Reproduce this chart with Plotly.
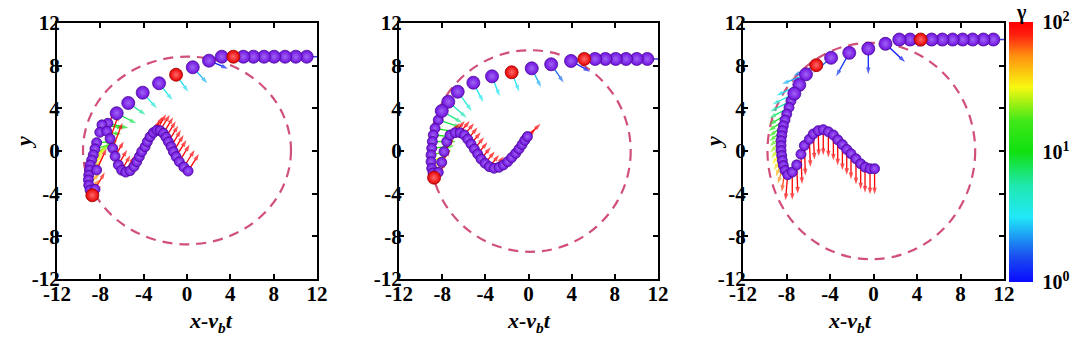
import math
import plotly.graph_objects as go
from plotly.colors import sample_colorscale

# axes
TICKS = [-12, -8, -4, 0, 4, 8, 12]
AX_MIN, AX_MAX = -12, 12
GAMMA_TICKS = [1, 10, 100]
GAMMA_LABELS = ['10<sup>0</sup>', '10<sup>1</sup>', '10<sup>2</sup>']

# ---------------- panel 1 ----------------
p1_arc_x = [11.05, 10.04, 9.05, 8.04, 7.11, 6.13, 5.2, 3.21, 2.03, 0.53, -2.58, -4.09, -5.42, -6.49]
p1_arc_y = [8.84, 8.84, 8.84, 8.84, 8.84, 8.84, 8.84, 8.84, 8.47, 7.85, 6.35, 5.47, 4.5, 3.54]
p1_loop_x = [-7.3, -7.85, -8.05, -8.34, -8.5, -8.65, -8.8, -8.95, -9.0, -9.07, -9.1, -9.07, -8.95,
             -8.49, -8.34, -7.4, -7.1, -6.86,
             -6.64, -6.34, -6.03, -5.66, -5.26, -4.89, -4.64, -4.4, -4.18, -3.87, -3.66, -3.41,
             -3.11, -2.79, -2.49, -2.18, -1.94, -1.72, -1.47, -1.26, -1.01, -0.71, -0.3, 0.1]
p1_loop_y = [2.6, 2.45, 1.75, 0.78, 0.2, -0.37, -0.84, -1.31, -1.78, -2.25, -2.7, -3.2, -3.65,
             -3.59, -1.78, 1.85, 1.15, 0.26,
             -0.5, -1.3, -1.8, -1.98, -1.85, -1.45, -1.0, -0.53, -0.06, 0.4, 0.87, 1.34,
             1.72, 1.95, 1.91, 1.66, 1.29, 0.87, 0.41, -0.06, -0.53, -1.0, -1.5, -1.88]
p1_red_x = [4.28, -1.01, -8.74]
p1_red_y = [8.84, 7.15, -4.15]
p1_arr_x = [2.03, 0.53, -1.01, -2.58, -4.09, -5.42, -6.49,
            -7.3, -7.85, -8.05, -8.34, -8.5, -8.65, -8.8, -8.95, -9.0, -9.07, -9.1, -9.07, -8.95, -8.74,
            -8.49, -8.34, -7.4, -7.1, -6.86,
            -6.64, -6.34, -6.03, -5.66, -5.26, -4.89, -4.64, -4.4, -4.18, -3.87, -3.66, -3.41,
            -3.11, -2.79, -2.49, -2.18, -1.94, -1.72, -1.47, -1.26, -1.01, -0.71, -0.3, 0.1]
p1_arr_y = [8.47, 7.85, 7.15, 6.35, 5.47, 4.5, 3.54,
            2.6, 2.45, 1.75, 0.78, 0.2, -0.37, -0.84, -1.31, -1.78, -2.25, -2.7, -3.2, -3.65, -4.15,
            -3.59, -1.78, 1.85, 1.15, 0.26,
            -0.5, -1.3, -1.8, -1.98, -1.85, -1.45, -1.0, -0.53, -0.06, 0.4, 0.87, 1.34,
            1.72, 1.95, 1.91, 1.66, 1.29, 0.87, 0.41, -0.06, -0.53, -1.0, -1.5, -1.88]
p1_arr_u = [1.75, 1.35, 1.13, 1.23, 1.3, 1.6, 1.8,
            1.9, 2.0, 2.0, 1.9, 1.7, 1.5, 1.4, 1.3, 1.2, 1.1, 1.0, 1.0, 0.9, 0.8,
            0.9, 0.9, 0.7, 0.8, 0.9,
            0.8, 0.8, 0.8, 0.8, 0.8, 0.85, 0.85, 0.85, 0.85, 0.85, 0.85, 0.85,
            0.85, 0.85, 0.9, 0.9, 0.9, 0.9, 0.9, 0.95, 0.95, 0.95, 1.0, 1.0]
p1_arr_v = [-0.75, -1.5, -1.6, -1.57, -1.47, -1.1, -0.95,
            -0.45, -0.3, -0.15, 0.1, 0.5, 0.9, 1.3, 1.5, 1.5, 1.4, 1.3, 1.1, 1.0, 0.9,
            1.6, 2.0, 2.1, 2.3, 2.4,
            1.4, 1.4, 1.4, 1.5, 1.5, 1.5, 1.5, 1.5, 1.5, 1.5, 1.5, 1.5,
            1.5, 1.5, 1.5, 1.5, 1.5, 1.5, 1.55, 1.55, 1.55, 1.6, 1.6, 1.6]
p1_arr_g = [1.2, 2.5, 3, 3.5, 4, 6, 8,
            9, 10, 11, 12, 15, 20, 25, 30, 35, 40, 45, 50, 60, 70,
            90, 100, 100, 100, 100,
            100, 100, 100, 100, 100, 100, 100, 100, 100, 100, 100, 100,
            100, 100, 100, 100, 100, 100, 100, 100, 100, 100, 100, 100]
p1_ring = [0.0, 0.05, 9.6, 8.8]   # cx, cy, rx, ry

# ---------------- panel 2 ----------------
p2_arc_x = [11.01, 10.03, 9.04, 8.08, 7.13, 6.17, 3.94, 2.1, 0.3, -3.38, -5.11, -6.56, -7.43, -8.04]
p2_arc_y = [8.63, 8.63, 8.63, 8.63, 8.63, 8.63, 8.44, 8.13, 7.75, 7.0, 6.4, 5.56, 4.62, 3.75]
p2_loop_x = [-8.36, -8.66, -8.82, -8.91, -8.97, -9.03, -9.03, -8.97, -8.85,
             -8.36, -8.04, -7.83, -7.58, -7.27,
             -6.81, -6.35, -5.95, -5.63, -5.33, -5.02, -4.71, -4.4, -4.03, -3.63, -3.2, -2.73,
             -2.33, -1.93, -1.56, -1.19, -0.88, -0.6, -0.35, -0.1]
p2_loop_y = [2.91, 2.13, 1.5, 0.88, 0.26, -0.37, -1.0, -1.62, -2.05,
             -2.0, -1.06, -0.06, 0.88, 1.5,
             1.72, 1.72, 1.5, 1.1, 0.66, 0.19, -0.28, -0.75, -1.15, -1.47, -1.62, -1.53,
             -1.31, -1.0, -0.62, -0.22, 0.19, 0.6, 1.0, 1.35]
p2_red_x = [5.17, -1.56, -8.75]
p2_red_y = [8.63, 7.38, -2.5]
p2_arr_x = [3.94, 2.1, 0.3, -1.56, -3.38, -5.11, -6.56, -7.43, -8.04,
            -8.36, -8.66, -8.82, -8.91, -8.97, -9.03, -9.03, -8.97, -8.85, -8.75,
            -8.36, -8.04, -7.83, -7.58, -7.27,
            -6.81, -6.35, -5.95, -5.63, -5.33, -5.02, -4.71, -4.4, -4.03, -3.63, -3.2, -2.73,
            -2.33, -1.93, -1.56, -1.19, -0.88, -0.6, -0.35, -0.1]
p2_arr_y = [8.44, 8.13, 7.75, 7.38, 7.0, 6.4, 5.56, 4.62, 3.75,
            2.91, 2.13, 1.5, 0.88, 0.26, -0.37, -1.0, -1.62, -2.05, -2.5,
            -2.0, -1.06, -0.06, 0.88, 1.5,
            1.72, 1.72, 1.5, 1.1, 0.66, 0.19, -0.28, -0.75, -1.15, -1.47, -1.62, -1.53,
            -1.31, -1.0, -0.62, -0.22, 0.19, 0.6, 1.0, 1.35]
p2_arr_u = [1.76, 1.15, 0.86, 0.7, 0.71, 0.92, 1.3, 1.7, 1.9,
            2.1, 2.2, 2.2, 2.2, 2.1, 1.9, 1.6, 1.3, 1.1, 0.9,
            0.8, 0.8, 0.9, 0.9, 0.9,
            0.9, 0.9, 0.9, 0.9, 0.9, 0.9, 0.9, 0.9, 0.9, 0.9, 0.9, 0.9,
            0.9, 0.9, 0.9, 0.9, 0.9, 0.9, 1.0, 1.2]
p2_arr_v = [-1.0, -1.7, -1.78, -1.8, -1.87, -1.8, -1.8, -1.5, -1.1,
            -0.7, -0.4, -0.2, 0.0, 0.2, 0.4, 0.7, 1.0, 1.1, 1.0,
            1.0, 1.2, 1.2, 1.1, 1.1,
            1.1, 1.1, 1.1, 1.1, 1.1, 1.1, 1.1, 1.1, 1.1, 1.1, 1.1, 1.1,
            1.1, 1.1, 1.1, 1.1, 1.1, 1.1, 1.1, 1.2]
p2_arr_g = [1.1, 1.8, 2.5, 3, 3.2, 3.5, 4, 5, 6.5,
            8, 10, 11, 12, 14, 18, 25, 35, 50, 70,
            90, 100, 100, 100, 100,
            100, 100, 100, 100, 100, 100, 100, 100, 100, 100, 100, 100,
            100, 100, 100, 100, 100, 100, 100, 100]
p2_ring = [0.17, 0.0, 9.3, 9.45]

# ---------------- panel 3 ----------------
p3_arc_x = [11.02, 10.1, 9.12, 8.2, 7.28, 6.33, 5.35, 3.36, 2.37, 1.1, -0.48, -2.23, -3.9, -6.21, -6.82, -7.28]
p3_arc_y = [10.45, 10.45, 10.45, 10.45, 10.45, 10.45, 10.45, 10.45, 10.45, 10.05, 9.6, 9.2, 8.74, 7.19, 6.2, 5.38]
p3_loop_x = [-7.59, -7.77, -7.98, -8.14, -8.29, -8.38, -8.44, -8.5, -8.5, -8.5, -8.44, -8.38, -8.29, -8.14, -7.89,
             -7.47, -7.06, -6.67, -6.36, -5.9, -5.53, -5.08, -4.62, -4.15, -3.69, -3.29, -2.86, -2.46,
             -2.07, -1.61, -1.18, -0.78, -0.32, 0.1]
p3_loop_y = [4.7, 4.08, 3.46, 2.9, 2.37, 1.91, 1.44, 0.97, 0.51, 0.04, -0.42, -0.89, -1.36, -1.82, -2.22,
             -1.98, -1.3, -0.3, 0.51, 1.1, 1.6, 1.91, 2.0, 1.8, 1.5, 1.05, 0.6, 0.15,
             -0.25, -0.73, -1.2, -1.51, -1.66, -1.66]
p3_red_x = [4.34, -5.26]
p3_red_y = [10.45, 8.05]
p3_arr_x = [2.37, 1.1, -0.48, -2.23, -3.9, -5.26, -6.21, -6.82, -7.28,
            -7.59, -7.77, -7.98, -8.14, -8.29, -8.38, -8.44, -8.5, -8.5, -8.5, -8.44, -8.38, -8.29, -8.14, -7.89,
            -7.47, -7.06, -6.67, -6.36, -5.9, -5.53, -5.08, -4.62, -4.15, -3.69, -3.29, -2.86, -2.46,
            -2.07, -1.61, -1.18, -0.78, -0.32, 0.1]
p3_arr_y = [10.45, 10.05, 9.6, 9.2, 8.74, 8.05, 7.19, 6.2, 5.38,
            4.7, 4.08, 3.46, 2.9, 2.37, 1.91, 1.44, 0.97, 0.51, 0.04, -0.42, -0.89, -1.36, -1.82, -2.22,
            -1.98, -1.3, -0.3, 0.51, 1.1, 1.6, 1.91, 2.0, 1.8, 1.5, 1.05, 0.6, 0.15,
            -0.25, -0.73, -1.2, -1.51, -1.66, -1.66]
p3_arr_u = [2.3, 1.8, 0.0, -1.2, -1.6, -2.1, -2.2, -2.1, -2.0,
            -1.9, -1.8, -1.6, -1.5, -1.3, -1.2, -1.1, -1.0, -0.9, -0.8, -0.7, -0.6, -0.5, -0.3, -0.2,
            0.0, 0.1, 0.1, 0.1, 0.1, 0.1, 0.05, 0.0, 0.0, 0.0, 0.0, 0.0, 0.0,
            0.0, 0.0, 0.0, 0.0, 0.0, 0.0]
p3_arr_v = [-0.6, -1.7, -2.4, -2.2, -1.4, -1.0, -0.9, -1.0, -1.0,
            -1.0, -1.0, -1.0, -1.0, -1.0, -1.0, -1.0, -1.1, -1.2, -1.3, -1.4, -1.5, -1.7, -2.0, -2.4,
            -2.6, -2.7, -2.8, -2.8, -2.6, -2.4, -2.4, -2.4, -2.4, -2.4, -2.4, -2.4, -2.4,
            -2.4, -2.4, -2.4, -2.4, -2.4, -2.4]
p3_arr_g = [1.0, 1.1, 1.2, 1.4, 1.7, 2, 2.5, 3, 4,
            5.5, 7, 9, 11, 13, 16, 19, 23, 27, 32, 38, 45, 55, 70, 100,
            100, 100, 100, 100, 100, 100, 100, 100, 100, 100, 100, 100, 100,
            100, 100, 100, 100, 100, 100]
p3_ring = [-0.2, 0.0, 9.55, 10.15]

GAMMA_SCALE = [
  [0.0, 'rgb(10,10,255)'], [0.1, 'rgb(26,80,240)'], [0.25, 'rgb(32,232,248)'],
  [0.37, 'rgb(32,232,176)'], [0.5, 'rgb(16,224,16)'], [0.62, 'rgb(64,232,24)'],
  [0.75, 'rgb(248,248,16)'], [0.87, 'rgb(255,144,16)'], [0.95, 'rgb(255,32,16)'],
  [1.0, 'rgb(255,0,0)']
]

FONT = 'Liberation Serif'
W, H = 1087, 340
X_DOMAINS = [[57 / W, 317 / W], [399 / W, 658 / W], [743 / W, 1004 / W]]
Y_DOMAIN = [1 - 279 / H, 1 - 23 / H]

fig = go.Figure()

def gammaColor(g):
  pos = math.log10(g) / math.log10(GAMMA_TICKS[-1])
  return sample_colorscale(GAMMA_SCALE, [min(max(pos, 0), 1)])[0]

def addPanel(n, arcX, arcY, loopX, loopY, redX, redY, ax, ay, au, av, ag, ring):
  xa = 'x' if n == 1 else f'x{n}'
  ya = 'y' if n == 1 else f'y{n}'
  cx, cy, rx, ry = ring
  fig.add_shape(
    type='circle', xref=xa, yref=ya, layer='below',
    x0=cx - rx, x1=cx + rx, y0=cy - ry, y1=cy + ry,
    line=dict(color='#d05078', width=2.2, dash='10px,7px')
  )
  # lead line along the incoming horizontal path
  fig.add_trace(go.Scatter(
    x=[AX_MAX, arcX[0]], y=[arcY[0], arcY[0]], mode='lines',
    line=dict(color='#3b3bd6', width=1.5), hoverinfo='skip', showlegend=False,
    xaxis=xa, yaxis=ya
  ))
  # arrows
  for x0, y0, u, v, g in zip(ax, ay, au, av, ag):
    c = gammaColor(g)
    fig.add_trace(go.Scatter(
      x=[x0, x0 + u], y=[y0, y0 + v], mode='lines+markers',
      line=dict(color=c, width=1.3),
      marker=dict(symbol='arrow', size=[0, 7], angleref='previous', color=c, line=dict(width=0)),
      hoverinfo='skip', showlegend=False, xaxis=xa, yaxis=ya
    ))
  # spheres
  purple = dict(color='#7010e0', gradient=dict(type='radial', color='#a064f4'),
                line=dict(color='#4a0a96', width=0.8))
  fig.add_trace(go.Scatter(
    x=loopX, y=loopY, mode='markers', marker=dict(purple, size=10),
    hoverinfo='skip', showlegend=False, xaxis=xa, yaxis=ya
  ))
  fig.add_trace(go.Scatter(
    x=arcX, y=arcY, mode='markers', marker=dict(purple, size=13),
    hoverinfo='skip', showlegend=False, xaxis=xa, yaxis=ya
  ))
  fig.add_trace(go.Scatter(
    x=redX, y=redY, mode='markers',
    marker=dict(size=13, color='#e80000', gradient=dict(type='radial', color='#ff6a6a'),
                line=dict(color='#9a0000', width=0.8)),
    hoverinfo='skip', showlegend=False, xaxis=xa, yaxis=ya
  ))

addPanel(1, p1_arc_x, p1_arc_y, p1_loop_x, p1_loop_y, p1_red_x, p1_red_y,
         p1_arr_x, p1_arr_y, p1_arr_u, p1_arr_v, p1_arr_g, p1_ring)
addPanel(2, p2_arc_x, p2_arc_y, p2_loop_x, p2_loop_y, p2_red_x, p2_red_y,
         p2_arr_x, p2_arr_y, p2_arr_u, p2_arr_v, p2_arr_g, p2_ring)
addPanel(3, p3_arc_x, p3_arc_y, p3_loop_x, p3_loop_y, p3_red_x, p3_red_y,
         p3_arr_x, p3_arr_y, p3_arr_u, p3_arr_v, p3_arr_g, p3_ring)

# colorbar carrier
fig.add_trace(go.Scatter(
  x=[None], y=[None], mode='markers', showlegend=False, hoverinfo='skip',
  marker=dict(
    color=[0], cmin=0, cmax=math.log10(GAMMA_TICKS[-1]), colorscale=GAMMA_SCALE, showscale=True,
    colorbar=dict(
      x=1009 / W, xanchor='left', xpad=0, y=1 - 152 / H, yanchor='middle', ypad=0,
      thickness=24, len=260 / H, lenmode='fraction', outlinewidth=0,
      tickvals=[math.log10(t) for t in GAMMA_TICKS], ticktext=GAMMA_LABELS,
      ticks='outside', ticklen=6, tickcolor='rgba(0,0,0,0)',
      tickfont=dict(family=FONT, size=20, color='black', weight='bold')
    )
  )
))

axisStyle = dict(
  range=[AX_MIN, AX_MAX], tickvals=TICKS, ticktext=[str(t) for t in TICKS],
  showline=True, linecolor='black', linewidth=2, mirror='allticks',
  ticks='inside', ticklen=5, tickwidth=1.5, tickcolor='black',
  showgrid=False, zeroline=False, automargin=False,
  tickfont=dict(family=FONT, size=21, color='black', weight='bold')
)

layout = dict(
  width=W, height=H, margin=dict(l=0, r=0, t=0, b=0, autoexpand=False),
  plot_bgcolor='white', paper_bgcolor='white', showlegend=False
)
for i in range(3):
  sfx = '' if i == 0 else str(i + 1)
  layout[f'xaxis{sfx}'] = dict(axisStyle, domain=X_DOMAINS[i], anchor=f'y{sfx}', ticklabelstandoff=-5)
  layout[f'yaxis{sfx}'] = dict(axisStyle, domain=Y_DOMAIN, anchor=f'x{sfx}', ticklabelstandoff=-9)
fig.update_layout(**layout)

titleFont = dict(family=FONT, size=22, color='black')
for i, dom in enumerate(X_DOMAINS):
  fig.add_annotation(
    xref='paper', yref='paper', x=(dom[0] + dom[1]) / 2, y=1 - 322 / H, yanchor='middle',
    text='<b><i>x-v<sub>b</sub>t</i></b>', showarrow=False, font=titleFont
  )
for px in [23, 713]:
  fig.add_annotation(
    xref='paper', yref='paper', x=px / W, y=1 - 143 / H, textangle=-90,
    xanchor='center', yanchor='middle',
    text='<b><i>y</i></b>', showarrow=False, font=titleFont
  )
fig.add_annotation(
  xref='paper', yref='paper', x=1021 / W, y=1 - 13 / H, xanchor='center', yanchor='middle',
  text='<b>γ</b>', showarrow=False, font=dict(family=FONT, size=20, color='black')
)

fig.write_html(
  "out.html",
  config=dict(displayModeBar=False),
  post_script="document.body.style.margin='0';document.body.style.overflow='hidden';"
)
